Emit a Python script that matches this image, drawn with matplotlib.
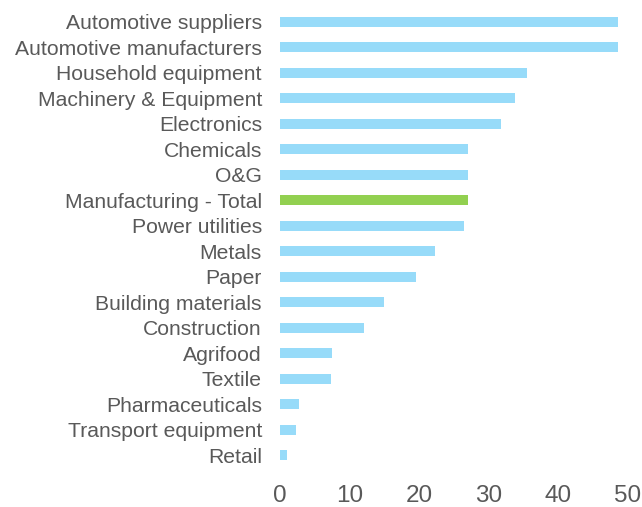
import matplotlib.pyplot as plt

plt.rcParams["font.family"] = ["Liberation Sans", "DejaVu Sans"]

sectors = [
    "Automotive suppliers", "Automotive manufacturers", "Household equipment",
    "Machinery & Equipment", "Electronics", "Chemicals", "O&G",
    "Manufacturing - Total", "Power utilities", "Metals", "Paper",
    "Building materials", "Construction", "Agrifood", "Textile",
    "Pharmaceuticals", "Transport equipment", "Retail",
]
values = [48.5, 48.5, 35.5, 33.7, 31.7, 27.0, 27.0, 27.0, 26.5, 22.3, 19.6,
          15.0, 12.1, 7.5, 7.3, 2.8, 2.3, 1.0]
highlight = "Manufacturing - Total"

blue = "#97DBF9"
green = "#92D050"
text_color = "#595959"

fig = plt.figure(figsize=(6.42, 5.07), dpi=100)
ax = fig.add_axes([280 / 642, 1 - 468 / 507, 348 / 642, 459 / 507])

colors = [green if s == highlight else blue for s in sectors]
ypos = list(range(len(sectors)))
ax.barh(ypos, values, height=0.39, color=colors)

ax.set_xlim(0, 50)
ax.set_ylim(len(sectors) - 0.5, -0.5)
ax.set_xticks([0, 10, 20, 30, 40, 50])
ax.set_yticks(ypos)
ax.set_yticklabels(sectors)

ax.tick_params(axis="y", length=0, pad=13, labelsize=15.2, labelcolor=text_color)
ax.tick_params(axis="x", length=0, pad=12, labelsize=17.5, labelcolor=text_color)

for sp in ax.spines.values():
    sp.set_visible(False)

fig.savefig("out.png", dpi=100)
